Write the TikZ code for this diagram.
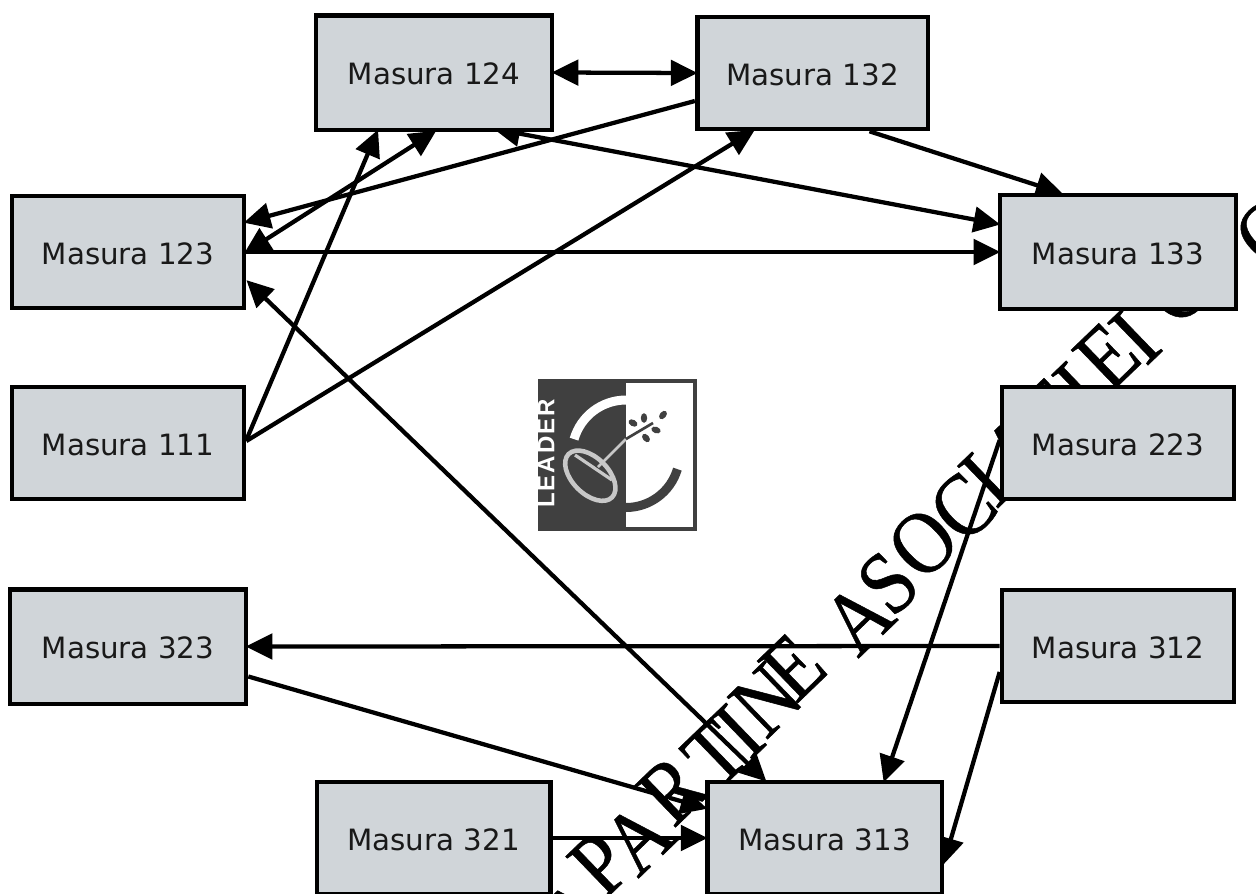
\documentclass[tikz,border=0pt]{standalone}
\usepackage{fontspec}
\setmainfont{DejaVu Sans}
\newfontfamily\wmfont[FakeBold=0.6]{Liberation Serif}
\newfontfamily\logofont[LetterSpace=8]{Liberation Sans Bold}
\usetikzlibrary{arrows.meta,calc}
\pgfdeclarelayer{connlayer}
\pgfdeclarelayer{wmlayer}
\pgfsetlayers{connlayer,wmlayer,main}
\definecolor{boxfill}{HTML}{D0D5D9}
\definecolor{logodark}{HTML}{404040}
\definecolor{logogray}{HTML}{C8C8C8}
\tikzset{
  x=0.75pt,y=-0.75pt,
  mbox/.style={draw=black,line width=3.5pt,fill=boxfill,inner sep=0pt,text height=18pt,text depth=0pt,font=\fontsize{22}{26}\selectfont,text=black!90},
  conn/.style={line width=3.2pt,draw=black,{Triangle[length=20pt,width=19pt]}-{Triangle[length=20pt,width=19pt]},shorten >=-2pt,shorten <=-2pt},
  one/.style={line width=3.2pt,draw=black,-{Triangle[length=20pt,width=19pt]},shorten >=-2pt},
  wm/.style={font=\wmfont\fontsize{67}{67}\selectfont,rotate=44,inner sep=0pt,outer sep=0pt,anchor=center},
}
\newcommand{\wml}[1]{\scalebox{0.88}[1]{#1}}
\begin{document}
\begin{tikzpicture}
\useasboundingbox (0,0) rectangle (1256,893);
\path (434,72.5) node[mbox,minimum width=177pt,minimum height=86pt] (m124) {Masura 124}
 (812.5,73) node[mbox,minimum width=173pt,minimum height=84pt] (m132) {Masura 132}
 (128,252) node[mbox,minimum width=174pt,minimum height=84pt] (m123) {Masura 123}
 (1118,252) node[mbox,minimum width=177pt,minimum height=85.5pt] (m133) {Masura 133}
 (128,443) node[mbox,minimum width=174pt,minimum height=84pt] (m111) {Masura 111}
 (1118,443) node[mbox,minimum width=174pt,minimum height=84pt] (m223) {Masura 223}
 (128,646.5) node[mbox,minimum width=177pt,minimum height=86pt] (m323) {Masura 323}
 (1118,646) node[mbox,minimum width=174pt,minimum height=84pt] (m312) {Masura 312}
 (433.5,838) node[mbox,minimum width=175pt,minimum height=84pt] (m321) {Masura 321}
 (824.5,838) node[mbox,minimum width=176pt,minimum height=84pt] (m313) {Masura 313};
\begin{pgfonlayer}{connlayer}
\draw[conn] (m124.east) -- (m132.west);
\draw[one] ($(m132.west)+(0,28)$) -- ($(m123.east)+(0,-30)$);
\draw[one] ($(m132.south)+(57,0)$) -- ($(m133.north)+(-58,0)$);
\draw[conn] ($(m124.south)+(62,-3)$) -- ($(m133.west)+(0,-28)$);
\draw[conn] (m123.east) -- (m124.south);
\draw[one] ($(m111.east)+(0,-3)$) -- ($(m124.south)+(-57,0)$);
\draw[one] ($(m111.east)+(0,-2)$) -- ($(m132.south)+(-60,0)$);
\draw[one] (m123.east) -- (m133.west);
\draw[conn] ($(m123.east)+(2,30)$) -- ($(m313.north)+(-60,0)$);
\draw[one] ($(m323.east)+(0,30)$) -- ($(m313.west)+(0,-30)$);
\draw[one] (m312.west) -- (m323.east);
\draw[one] (m321.east) -- (m313.west);
\draw[one] ($(m223.west)+(0,-3)$) -- ($(m313.north)+(60,0)$);
\draw[one] ($(m312.west)+(0,26)$) -- ($(m313.east)+(0,24)$);
\end{pgfonlayer}
\begin{pgfonlayer}{wmlayer}
\draw[white,line width=11pt,line cap=round] (660,799) -- (672,822);
\foreach \ch/\px/\py [count=\i] in {A/576/914,P/600/864,A/638/838,R/672/790,T/715/754,I/739/731,N/766/700,E/793/667,A/858/618,S/888/583,O/923/543,C/963/507,I/985/480,A/1018/449,T/1048/415,I/1079/389,E/1107/356,I/1135/337,C/1176/290,O/1270/232}
  \node[wm] (wm\i) at (\px,\py) {\wml{\ch}};
\end{pgfonlayer}
% logo
\fill[logodark] (538,379) rectangle (697,531);
\fill[white] (626,383) rectangle (693,527);
\draw[white,line width=6.75pt] (626,400) arc[start angle=90,end angle=164,radius=40.5pt];
\draw[logodark,line width=6.75pt] (626,507.5) arc[start angle=270,end angle=343.5,radius=40.2pt];
\draw[logogray,line width=3.4pt,rotate around={-45:(590.3,475.7)}] (590.3,475.7) ellipse[x radius=23pt,y radius=13.5pt];
\draw[logogray,line width=2.4pt] (575,455) -- (612,480);
\draw[logogray,line width=2pt] (598,467) -- (626,439);
\draw[logodark,line width=2pt] (626,439) -- (653,423);
\foreach \lx/\ly/\la in {633/423/-30,644/418/90,663/415/50,656/430/-20,646/438/-50}
  \fill[logodark,rotate around={\la:(\lx,\ly)}] (\lx,\ly) ellipse[x radius=3.6pt,y radius=2.4pt];
\node[font=\logofont\fontsize{18}{18}\selectfont,text=white,rotate=90,inner sep=0pt] (leader) at (546,453.5) {LEADER};
\end{tikzpicture}
\end{document}
